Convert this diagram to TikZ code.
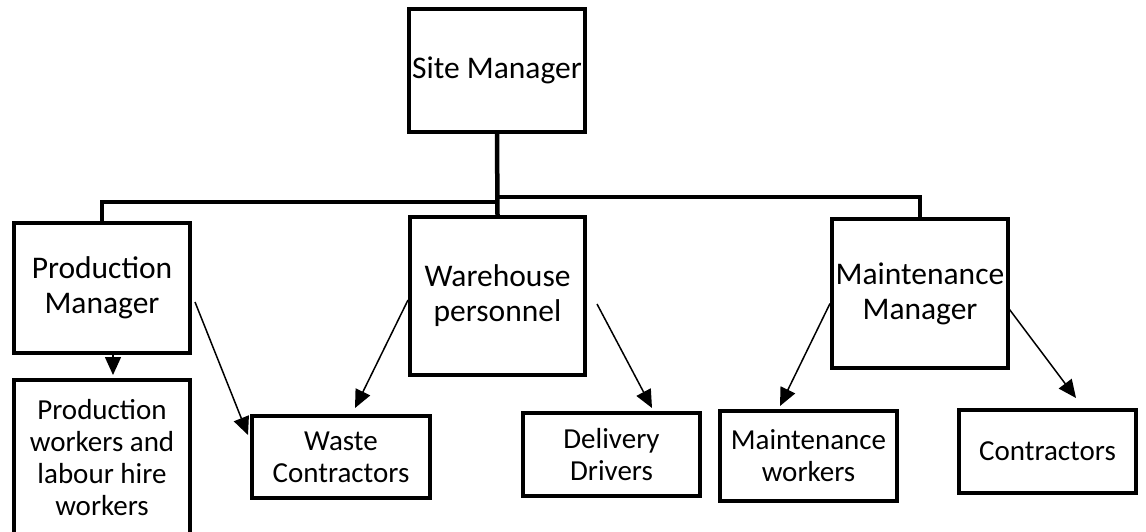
\documentclass[tikz,border=0pt]{standalone}
\usepackage{fontspec}
\setmainfont{Carlito}
\usetikzlibrary{arrows.meta}
\tikzset{
  box/.style={draw, line width=4pt, rectangle, inner sep=0pt, align=center, fill=white},
  topbox/.style={box, font=\fontsize{31.5}{35}\selectfont},
  lowbox/.style={box, font=\fontsize{29}{32}\selectfont},
  bar/.style={line width=4.5pt},
  arr/.style={line width=1.5pt, -{Triangle[length=18pt,width=16pt]}}
}
\begin{document}
\begin{tikzpicture}[x=1pt,y=-1pt]
\path[use as bounding box, fill=white] (0,0) rectangle (1146,532);

% connector bar junctions
\coordinate (jl) at (497,202);
\coordinate (jr) at (497,197);

% top level
\node[topbox, minimum width=176pt, minimum height=123pt] (site) at (497,70.5) {Site Manager};
\node[topbox, minimum width=176pt, minimum height=130pt] (pm) at (102,288) {Production\\Manager};
\node[topbox, minimum width=175pt, minimum height=158pt] (wp) at (497.5,296) {Warehouse\\personnel};
\node[topbox, minimum width=176pt, minimum height=149pt] (mm) at (920,293.5) {Maintenance\\Manager};

% lower level
\node[lowbox, minimum width=176pt, minimum height=155pt] (pw) at (102,457.5) {Production\\workers and\\labour hire\\workers};
\node[lowbox, minimum width=178pt, minimum height=82pt] (waste) at (341,457) {Waste\\Contractors};
\node[lowbox, minimum width=177pt, minimum height=83pt] (deliv) at (611.5,454.5) {Delivery\\Drivers};
\node[lowbox, minimum width=177pt, minimum height=90pt] (mw) at (808.5,456) {Maintenance\\workers};
\node[lowbox, minimum width=177pt, minimum height=83pt] (contr) at (1047.5,451.5) {Contractors};

% org bars
\draw[bar] (site.south) -- (wp.north);
\draw[bar] (pm.north) |- (jl);
\draw[bar] (mm.north) |- (jr);

% arrows
\draw[arr] ([xshift=11pt]pm.south) -- ([xshift=11pt,yshift=3pt]pw.north);
\draw[arr] ([xshift=3pt,yshift=-14pt]pm.east) -- ([xshift=-2pt,yshift=22pt]waste.west);
\draw[arr] ([yshift=-4pt]wp.west) -- ([xshift=14pt,yshift=6pt]waste.north);
\draw[arr] ([xshift=10pt,yshift=-8pt]wp.east) -- ([xshift=40.5pt,yshift=3pt]deliv.north);
\draw[arr] ([yshift=-10pt]mm.west) -- ([xshift=-28.5pt,yshift=3pt]mw.north);
\draw[arr] ([xshift=-2pt,yshift=-14pt]mm.east) -- ([xshift=28.5pt,yshift=10pt]contr.north);
\end{tikzpicture}
\end{document}
